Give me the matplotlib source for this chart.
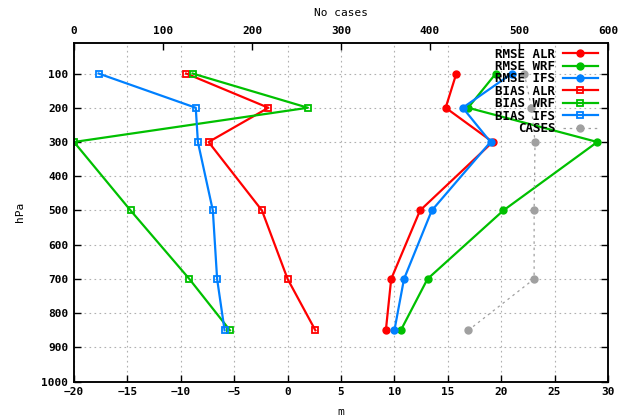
import numpy as np
import matplotlib
matplotlib.use("Agg")
import matplotlib.pyplot as plt

# pressure levels (hPa)
levels = [100, 200, 300, 500, 700, 850]

# RMSE (m)
rmse_alr = [15.8, 14.8, 19.2, 12.4, 9.7, 9.2]
rmse_wrf = [19.5, 16.9, 29.0, 20.2, 13.1, 10.6]
rmse_ifs = [21.0, 16.4, 19.0, 13.5, 10.9, 10.0]

# BIAS (m)
bias_alr = [-9.5, -1.8, -7.4, -2.4, 0.0, 2.6]
bias_wrf = [-8.9, 1.9, -20.0, -14.7, -9.2, -5.4]
bias_ifs = [-17.7, -8.6, -8.4, -7.0, -6.6, -5.9]

# number of cases
cases = [506, 514, 518, 517, 517, 443]

RED, GREEN, BLUE, GRAY = "#ff0000", "#00c000", "#0080ff", "#a0a0a0"

plt.rcParams["font.family"] = ["DejaVu Sans Mono"]
plt.rcParams["font.weight"] = "bold"
plt.rcParams["font.size"] = 8

fig = plt.figure(figsize=(6.25, 4.17), dpi=100)
ax = fig.add_axes([0.1184, 0.0847, 0.8544, 0.8129])
ax2 = ax.twiny()

lw, ms = 1.6, 5
ax.plot(rmse_alr, levels, color=RED, lw=lw, marker="o", ms=ms, label="RMSE ALR")
ax.plot(rmse_wrf, levels, color=GREEN, lw=lw, marker="o", ms=ms, label="RMSE WRF")
ax.plot(rmse_ifs, levels, color=BLUE, lw=lw, marker="o", ms=ms, label="RMSE IFS")
ax.plot(bias_alr, levels, color=RED, lw=lw, marker="s", ms=ms, mfc="none", mew=1.3, label="BIAS ALR")
ax.plot(bias_wrf, levels, color=GREEN, lw=lw, marker="s", ms=ms, mfc="none", mew=1.3, label="BIAS WRF")
ax.plot(bias_ifs, levels, color=BLUE, lw=lw, marker="s", ms=ms, mfc="none", mew=1.3, label="BIAS IFS")
ax2.plot(cases, levels, color=GRAY, lw=0.9, ls=(0, (2, 3)), marker="o", ms=ms, label="CASES")

ax.set_xlim(-20, 30)
ax.set_ylim(1000, 10)
ax.set_xticks(np.arange(-20, 31, 5))
ax.set_yticks(np.arange(100, 1001, 100))
ax2.set_xlim(0, 600)
ax2.set_xticks(np.arange(0, 601, 100))

ax.grid(True, color="#b0b0b0", ls=(0, (1.5, 3)), lw=0.8)
ax.tick_params(direction="in", length=5, width=1, top=False, right=True, pad=4)
ax2.tick_params(direction="in", length=5, width=1, pad=5)
for a in (ax, ax2):
    for s in a.spines.values():
        s.set_linewidth(1.1)

ax.set_xlabel("m", labelpad=7)
ax.set_ylabel("hPa", labelpad=12)
ax2.set_xlabel("No cases", labelpad=7)

h1, l1 = ax.get_legend_handles_labels()
h2, l2 = ax2.get_legend_handles_labels()
leg = ax2.legend(h1 + h2, l1 + l2, loc="upper right", frameon=False, markerfirst=False,
                 handlelength=2.8, labelspacing=-0.05, handletextpad=0.6,
                 borderaxespad=0.0, bbox_to_anchor=(0.99, 1.0), fontsize=9)

fig.savefig("out.png", dpi=100)
